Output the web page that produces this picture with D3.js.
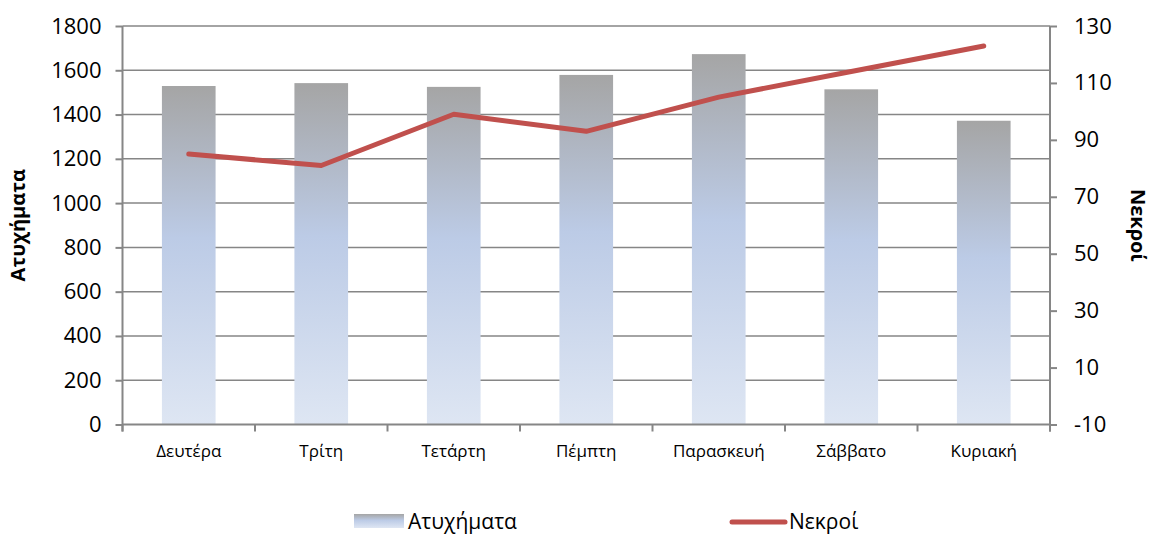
<!DOCTYPE html>
<html>
<head>
<meta charset="utf-8">
<script src="https://cdn.jsdelivr.net/npm/d3@7"></script>
<style>
    body { margin: 0; background: #fff; }
    text { font-family: "Open Sans", "Noto Sans", sans-serif; fill: #000; }
</style>
</head>
<body>
<svg id="chart" width="1152" height="534"></svg>
<script>
// chart data
var days = ['Δευτέρα', 'Τρίτη', 'Τετάρτη', 'Πέμπτη', 'Παρασκευή', 'Σάββατο', 'Κυριακή'];
var accidents = [1529, 1542, 1525, 1579, 1673, 1514, 1372];
var deaths = [85, 81, 99, 93, 105, 114, 123];
var leftTicks = [0, 200, 400, 600, 800, 1000, 1200, 1400, 1600, 1800];
var rightTicks = [-10, 10, 30, 50, 70, 90, 110, 130];

(function() {
    var svg = d3.select('#chart');
    var left = 122.5, right = 1050, top = 26, bottom = 424.5;
    var axisColor = '#868686';
    var plain = function(d) { return String(d); };

    var x = d3.scaleBand().domain(days).range([left, right]).paddingInner(0.595).paddingOuter(0.2975);
    var xb = d3.scaleBand().domain(days).range([left, right]);
    var yL = d3.scaleLinear().domain([0, 1800]).range([bottom, top]);
    var yR = d3.scaleLinear().domain([-10, 130]).range([bottom, top]);

    var defs = svg.append('defs');
    var grad = defs.append('linearGradient')
        .attr('id', 'barGrad')
        .attr('x1', 0).attr('y1', 0).attr('x2', 0).attr('y2', 1);
    grad.append('stop').attr('offset', '0%').attr('stop-color', '#a5a5a5');
    grad.append('stop').attr('offset', '45%').attr('stop-color', '#bccbe6');
    grad.append('stop').attr('offset', '100%').attr('stop-color', '#dee6f3');

    // gridlines
    svg.append('g').selectAll('line')
        .data(leftTicks.slice(1))
        .enter().append('line')
        .attr('x1', left).attr('x2', right)
        .attr('y1', function(d) { return yL(d); })
        .attr('y2', function(d) { return yL(d); })
        .attr('stroke', axisColor).attr('stroke-width', 1.5);

    // bars
    svg.append('g').selectAll('rect')
        .data(accidents)
        .enter().append('rect')
        .attr('x', function(d, i) { return x(days[i]); })
        .attr('y', function(d) { return yL(d); })
        .attr('width', x.bandwidth())
        .attr('height', function(d) { return bottom - yL(d); })
        .attr('fill', 'url(#barGrad)');

    // left axis
    var gl = svg.append('g').attr('transform', 'translate(' + left + ',0)')
        .call(d3.axisLeft(yL).tickValues(leftTicks).tickFormat(plain).tickSize(7).tickPadding(14));
    // right axis
    var gr = svg.append('g').attr('transform', 'translate(' + right + ',0)')
        .call(d3.axisRight(yR).tickValues(rightTicks).tickFormat(plain).tickSize(7).tickPadding(17));
    // bottom axis
    var gb = svg.append('g').attr('transform', 'translate(0,' + bottom + ')')
        .call(d3.axisBottom(xb).tickSize(0).tickPadding(20));
    gb.selectAll('.tick').append('line')
        .attr('x1', -xb.bandwidth() / 2).attr('x2', -xb.bandwidth() / 2)
        .attr('y1', 0).attr('y2', 7);
    gb.append('line')
        .attr('x1', right).attr('x2', right).attr('y1', 0).attr('y2', 7);

    [gl, gr, gb].forEach(function(g) {
        g.selectAll('.domain').attr('stroke', axisColor).attr('stroke-width', 2);
        g.selectAll('line').attr('stroke', axisColor).attr('stroke-width', 2);
    });
    gl.selectAll('text').style('font-size', '22px');
    gr.selectAll('text').style('font-size', '22px');
    gb.selectAll('text').style('font-size', '17px');
    gl.select('.domain').attr('d', 'M0,' + top + 'V' + (bottom + 7));
    gr.select('.domain').attr('d', 'M0,' + top + 'V' + (bottom + 7));
    gb.select('.domain').attr('d', 'M' + left + ',0H' + right);

    // line series
    var line = d3.line()
        .x(function(d, i) { return xb(days[i]) + xb.bandwidth() / 2; })
        .y(function(d) { return yR(d); });
    svg.append('path')
        .datum(deaths)
        .attr('d', line)
        .attr('fill', 'none')
        .attr('stroke', '#c0504d')
        .attr('stroke-width', 5)
        .attr('stroke-linecap', 'round')
        .attr('stroke-linejoin', 'round');

    // axis titles
    svg.append('text')
        .attr('transform', 'translate(25,' + ((top + bottom) / 2) + ') rotate(-90)')
        .attr('text-anchor', 'middle')
        .style('font-size', '20px').style('font-weight', 'bold')
        .text('Ατυχήματα');
    svg.append('text')
        .attr('transform', 'translate(1131,' + ((top + bottom) / 2) + ') rotate(90)')
        .attr('text-anchor', 'middle')
        .style('font-size', '20px').style('font-weight', 'bold')
        .text('Νεκροί');

    // legend
    var lg = svg.append('g');
    lg.append('rect')
        .attr('x', 354).attr('y', 514).attr('width', 50).attr('height', 14)
        .attr('fill', 'url(#barGrad)');
    lg.append('text').attr('x', 408).attr('y', 529).style('font-size', '21px').text('Ατυχήματα');
    lg.append('line')
        .attr('x1', 732).attr('x2', 785).attr('y1', 522).attr('y2', 522)
        .attr('stroke', '#c0504d').attr('stroke-width', 5).attr('stroke-linecap', 'round');
    lg.append('text').attr('x', 789).attr('y', 529).style('font-size', '21px').text('Νεκροί');
})();
</script>
</body>
</html>
